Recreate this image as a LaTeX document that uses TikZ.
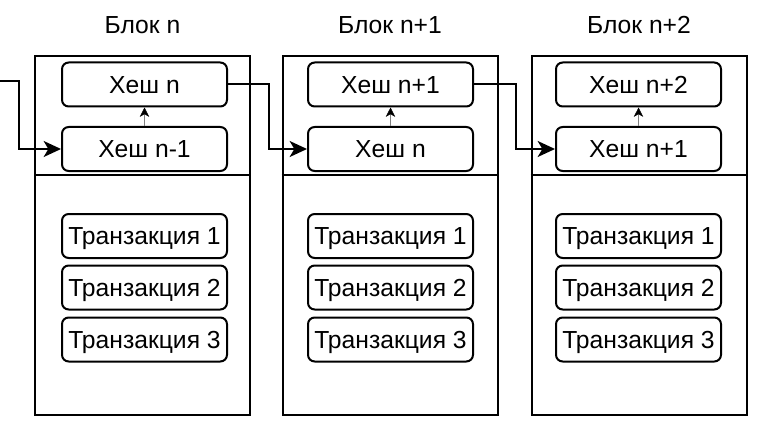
\documentclass[tikz,border=0pt]{standalone}
\usepackage{fontspec}
\setmainfont{Liberation Sans}
\usetikzlibrary{arrows.meta}
\tikzset{
  capfont/.style={font=\fontsize{18.5pt}{21pt}\selectfont, text height=13.25pt, text depth=0pt},
  blockbox/.style={draw, line width=1.5pt, minimum width=161.25pt, minimum height=269.25pt, inner sep=0pt},
  rbox/.style={draw, line width=1.5pt, rounded corners=5pt, minimum width=123.75pt, minimum height=33pt, inner sep=0pt, capfont},
  ttl/.style={capfont, inner sep=0pt},
  link/.style={line width=1.5pt, -{Stealth[length=13pt, width=12pt, inset=3.5pt]}},
  up/.style={line width=0.4pt, draw=black!50, -{Stealth[length=7pt, width=7pt, inset=2pt, black]}}
}
\begin{document}
\begin{tikzpicture}[x=0.75pt, y=-0.75pt]
\useasboundingbox (0,0) rectangle (775,435);
% blocks
\foreach \i/\cx/\hx/\mytl/\myhtop/\myhbot in {1/142.5/144.5/n/n/n-1, 2/390/390.5/n+1/n+1/n, 3/639/638.5/n+2/n+2/n+1}{
  \node[blockbox] (b\i) at (\cx,235.5) {};
  \draw[line width=1.5pt] (b\i.west |- 0,175) coordinate (d\i) -- (b\i.east |- 0,175);
  \node[ttl] (t\i) at (\cx,25) {Блок \mytl};
  \node[rbox] (h\i t) at (\hx,84.5) {Хеш \myhtop};
  \node[rbox] (h\i b) at (\hx,149) {Хеш \myhbot};
  \node[rbox] (x\i a) at (\hx,236) {Транзакция 1};
  \node[rbox] (x\i b) at (\hx,287.5) {Транзакция 2};
  \node[rbox] (x\i c) at (\hx,339.5) {Транзакция 3};
  \draw[up] (h\i b.north) -- (h\i t.south);
}
\coordinate (in) at (0,81);
\draw[link] (in) -- ++(19,0) |- (h1b.west);
\draw[link] (h1t.east) -- ++(41,0) |- (h2b.west);
\draw[link] (h2t.east) -- ++(42,0) |- (h3b.west);
\end{tikzpicture}
\end{document}
